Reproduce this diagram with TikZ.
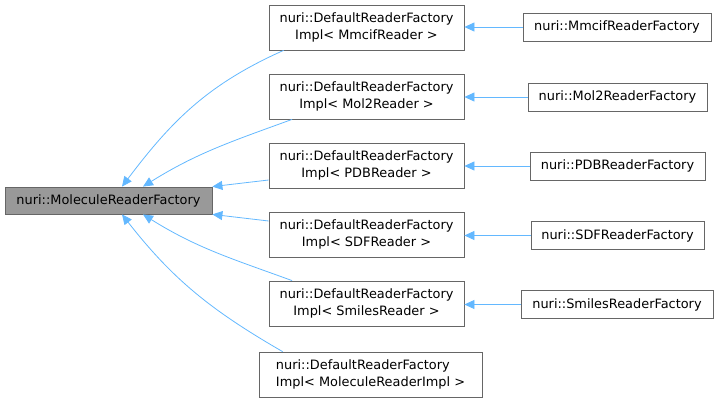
\documentclass[tikz,border=0pt]{standalone}
\usepackage{fontspec}
\setmainfont{DejaVu Sans}
\usepackage{xcolor}
\usetikzlibrary{arrows.meta}
\definecolor{edgeblue}{HTML}{63B8FF}
\definecolor{boxgray}{HTML}{666666}
\definecolor{basegray}{HTML}{999999}
\tikzset{
	cls/.style={
			draw=boxgray, fill=white, line width=0.8pt, align=center,
			inner sep=0pt, minimum height=28pt,
			font=\fontsize{12.9}{16.5}\selectfont
		},
	tmpl/.style={cls, minimum height=45pt},
	inh/.style={->, draw=edgeblue, line width=0.8pt}
}

\begin{document}
\begin{tikzpicture}[x=1pt, y=1pt, >={Triangle[length=10pt,width=9pt,fill=edgeblue]}]
			\useasboundingbox (0,0) rectangle (719,402);
			% Base class
			\node[cls, fill=basegray, minimum width=207pt, minimum height=27pt] (base) at (108.5,201.5) {nuri::MoleculeReaderFactory};
			
			% Template instances
			\node[tmpl, minimum width=195pt] (mmcifimpl) at (366.5,374.5) {nuri::DefaultReaderFactory\\Impl< MmcifReader >};
			\node[tmpl, minimum width=195pt] (mol2impl) at (366.5,305.5) {nuri::DefaultReaderFactory\\Impl< Mol2Reader >};
			\node[tmpl, minimum width=195pt] (pdbimpl) at (366.5,236.5) {nuri::DefaultReaderFactory\\Impl< PDBReader >};
			\node[tmpl, minimum width=195pt] (sdfimpl) at (366.5,167.5) {nuri::DefaultReaderFactory\\Impl< SDFReader >};
			\node[tmpl, minimum width=195pt] (smilesimpl) at (366.5,98.5) {nuri::DefaultReaderFactory\\Impl< SmilesReader >};
			\node[tmpl, align=left, minimum width=223pt] (molimpl) at (370.5,27.5) {nuri::DefaultReaderFactory\\Impl< MoleculeReaderImpl >};
			
			% Concrete factories
			\node[cls, minimum width=188pt] (mmcif) at (617,375) {nuri::MmcifReaderFactory};
			\node[cls, minimum width=179pt] (mol2) at (617.5,305) {nuri::Mol2ReaderFactory};
			\node[cls, minimum width=175pt] (pdb) at (617.5,236) {nuri::PDBReaderFactory};
			\node[cls, minimum width=173pt] (sdf) at (617.5,166.5) {nuri::SDFReaderFactory};
			\node[cls, minimum width=192pt] (smiles) at (617,97.5) {nuri::SmilesReaderFactory};
			
			% Inheritance to the base class
			\draw[inh] ([xshift=15pt]mmcifimpl.south west) to[out=-156, in=53] ([xshift=13.5pt]base.north);
			\draw[inh] ([xshift=23.5pt]mol2impl.south west) to[out=-160, in=32] ([xshift=34.5pt]base.north);
			\draw[inh] ([yshift=-14.5pt]pdbimpl.west) -- (base.north east);
			\draw[inh] ([yshift=13.5pt]sdfimpl.west) -- (base.south east);
			\draw[inh] ([xshift=23.5pt]smilesimpl.north west) to[out=160, in=-32] ([xshift=34.5pt]base.south);
			\draw[inh] ([xshift=24pt]molimpl.north west) to[out=150, in=-52] ([xshift=13.5pt]base.south);
			
			% Inheritance to the template instances
			\draw[inh] (mmcif.west) -- (mmcifimpl.east |- mmcif.west);
			\draw[inh] (mol2.west) -- (mol2impl.east |- mol2.west);
			\draw[inh] (pdb.west) -- (pdbimpl.east |- pdb.west);
			\draw[inh] (sdf.west) -- (sdfimpl.east |- sdf.west);
			\draw[inh] (smiles.west) -- (smilesimpl.east |- smiles.west);
		\end{tikzpicture}
\end{document}
